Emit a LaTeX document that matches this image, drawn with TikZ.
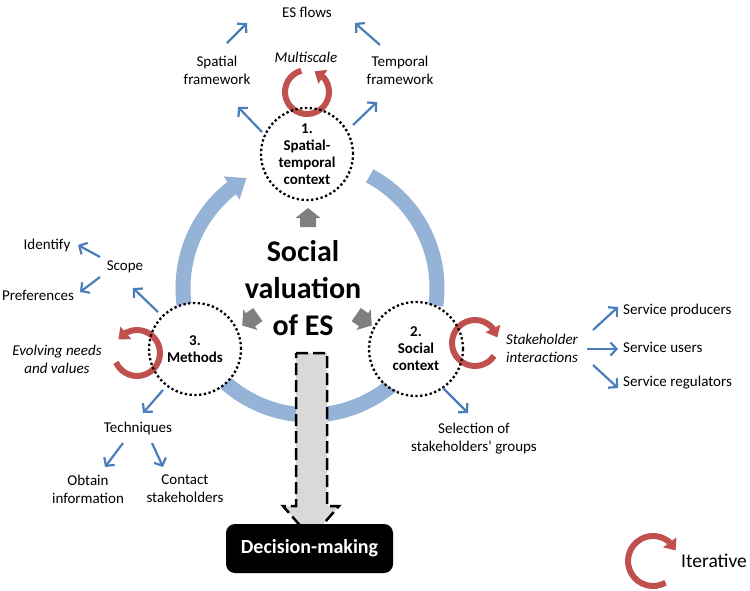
\documentclass[tikz,border=0pt]{standalone}
\usepackage{fontspec}
\setmainfont{Carlito}
\usetikzlibrary{arrows.meta,bending,calc}
\definecolor{ringblue}{HTML}{95B3D7}
\definecolor{arrblue}{HTML}{4A7EBB}
\definecolor{itred}{HTML}{C0504D}
\definecolor{blockgray}{HTML}{7F7F7F}
\definecolor{dashfill}{HTML}{D9D9D9}
\newcommand{\bluearrow}[3]{\coordinate (#1a) at (#2); \coordinate (#1b) at (#3); \draw[barrow] (#1a) -- (#1b);}
\begin{document}
\begin{tikzpicture}[x=1pt,y=1pt,
  lbl/.style={font=\fontsize{15}{18}\selectfont, align=center, inner sep=0pt},
  itlbl/.style={lbl, font=\fontsize{15}{18}\selectfont\itshape},
  stagefill/.style={circle, fill=white, minimum size=92pt, inner sep=0pt, align=center, font=\fontsize{15}{17}\selectfont\bfseries},
  dotline/.style={draw=black, line width=2.3pt, dash pattern=on 2.3pt off 2.5pt},
  barrow/.style={draw=arrblue, line width=2.2pt, -{Straight Barb[length=6pt,width=13pt]}},
  ring/.style={draw=ringblue, line width=15pt},
  iter/.style={draw=itred, line width=6pt, -{Triangle[length=10pt,width=16pt]}},
  blockarrow/.pic={\fill[blockgray] (0,-8) -- (9,-8) -- (9,-12.5) -- (19,0) -- (9,12.5) -- (9,8) -- (0,8) -- cycle;},
]
\useasboundingbox (0,0) rectangle (750,-590);
\coordinate (ctr) at (310,-288);
% ring
\draw[ring, -{Triangle[length=18pt,width=27pt]}] ($(ctr)+(200:127)$) arc (200:120:127);
\draw[ring] ($(ctr)+(62:127)$) arc (62:-8:127);
\draw[ring] ($(ctr)+(-35:127)$) arc (-35:-145:127);

% dashed central arrow
\draw[line width=2.5pt, dash pattern=on 12pt off 5pt, fill=dashfill]
  (296,-353) -- (327,-353) -- (327,-506) -- (339,-506) -- (311,-538) -- (283,-506) -- (296,-506) -- cycle;
\node[fill=black, rounded corners=9pt, minimum width=167pt, minimum height=49pt, inner sep=0pt,
  text=white, font=\fontsize{20}{24}\selectfont\bfseries] (dm) at (309.5,-548.5) {Decision-making};

% stage circles (fill)
\node[stagefill] (c1) at (307,-154) {1.\\Spatial-\\temporal\\context};
\node[stagefill] (c3) at (195,-349) {3.\\Methods};
\node[stagefill] (c2) at (416,-349) {2.\\Social\\context};

% iterative red arrows
\coordinate (r1) at (307,-92);
\coordinate (r3) at (137,-353);
\coordinate (r2) at (475,-343);
\coordinate (r4) at (653,-561);
\draw[iter] ($(r1)+(105:22)$) arc (105:430:22);
\draw[iter] ($(r3)+(204:23)$) arc (204:504:23);
\draw[iter] ($(r2)+(-34:23)$) arc (-34:-346:23);
\draw[iter] ($(r4)+(-60:25)$) arc (-60:-335:25);

% dotted outlines
\draw[dotline] (c1.center) circle[radius=46];
\draw[dotline] (c3.center) circle[radius=46];
\draw[dotline] (c2.center) circle[radius=47];

% gray block arrows
\pic[rotate=90] at (308,-227) {blockarrow};
\pic[rotate=215] at (257.8,-314.6) {blockarrow};
\pic[rotate=-35] at (356.2,-314.6) {blockarrow};

% central title
\node[font=\fontsize{30}{37}\selectfont\bfseries, align=center, inner sep=0pt] (main) at (303,-288) {Social\\valuation\\of ES};

% labels
\node[lbl] (esflows) at (307,-12) {ES flows};
\node[itlbl] (multi) at (306,-57) {Multiscale};
\node[lbl] (spatial) at (217,-70) {Spatial\\framework};
\node[lbl] (temporal) at (400,-70) {Temporal\\framework};
\node[lbl] (scope) at (125,-267) {Scope};
\node[lbl] (identify) at (47,-245) {Identify};
\node[lbl] (pref) at (38,-295) {Preferences};
\node[itlbl] (evolv) at (57,-359) {Evolving needs\\and values};
\node[lbl] (tech) at (138,-428) {Techniques};
\node[lbl] (obtain) at (88,-489) {Obtain\\information};
\node[lbl] (contact) at (185,-489) {Contact\\stakeholders};
\node[itlbl] (stake) at (542,-348) {Stakeholder\\interactions};
\node[lbl, anchor=west] (prod) at (623,-310) {Service producers};
\node[lbl, anchor=west] (users) at (623,-347) {Service users};
\node[lbl, anchor=west] (reg) at (623,-383) {Service regulators};
\node[lbl] (sel) at (474,-439) {Selection of\\stakeholders’ groups};
\node[lbl, anchor=west, font=\fontsize{19.5}{22}\selectfont] (iterlbl) at (681,-561) {Iterative};

% blue arrows
\bluearrow{a1}{227,-43}{247,-23}
\bluearrow{a2}{380,-45}{355,-23}
\bluearrow{a3}{262,-132}{238,-107}
\bluearrow{a4}{353,-125}{377,-102}
\bluearrow{a5}{158,-312}{133,-288}
\bluearrow{a6}{100,-257}{78,-245}
\bluearrow{a7}{100,-277}{80,-292}
\bluearrow{a8}{163,-390}{143,-413}
\bluearrow{a9}{123,-443}{105,-467}
\bluearrow{a10}{152,-443}{163,-467}
\bluearrow{a11}{443,-388}{468,-413}
\bluearrow{a12}{593,-330}{618,-307}
\bluearrow{a13}{587,-349}{618,-349}
\bluearrow{a14}{593,-365}{618,-388}
\end{tikzpicture}
\end{document}
